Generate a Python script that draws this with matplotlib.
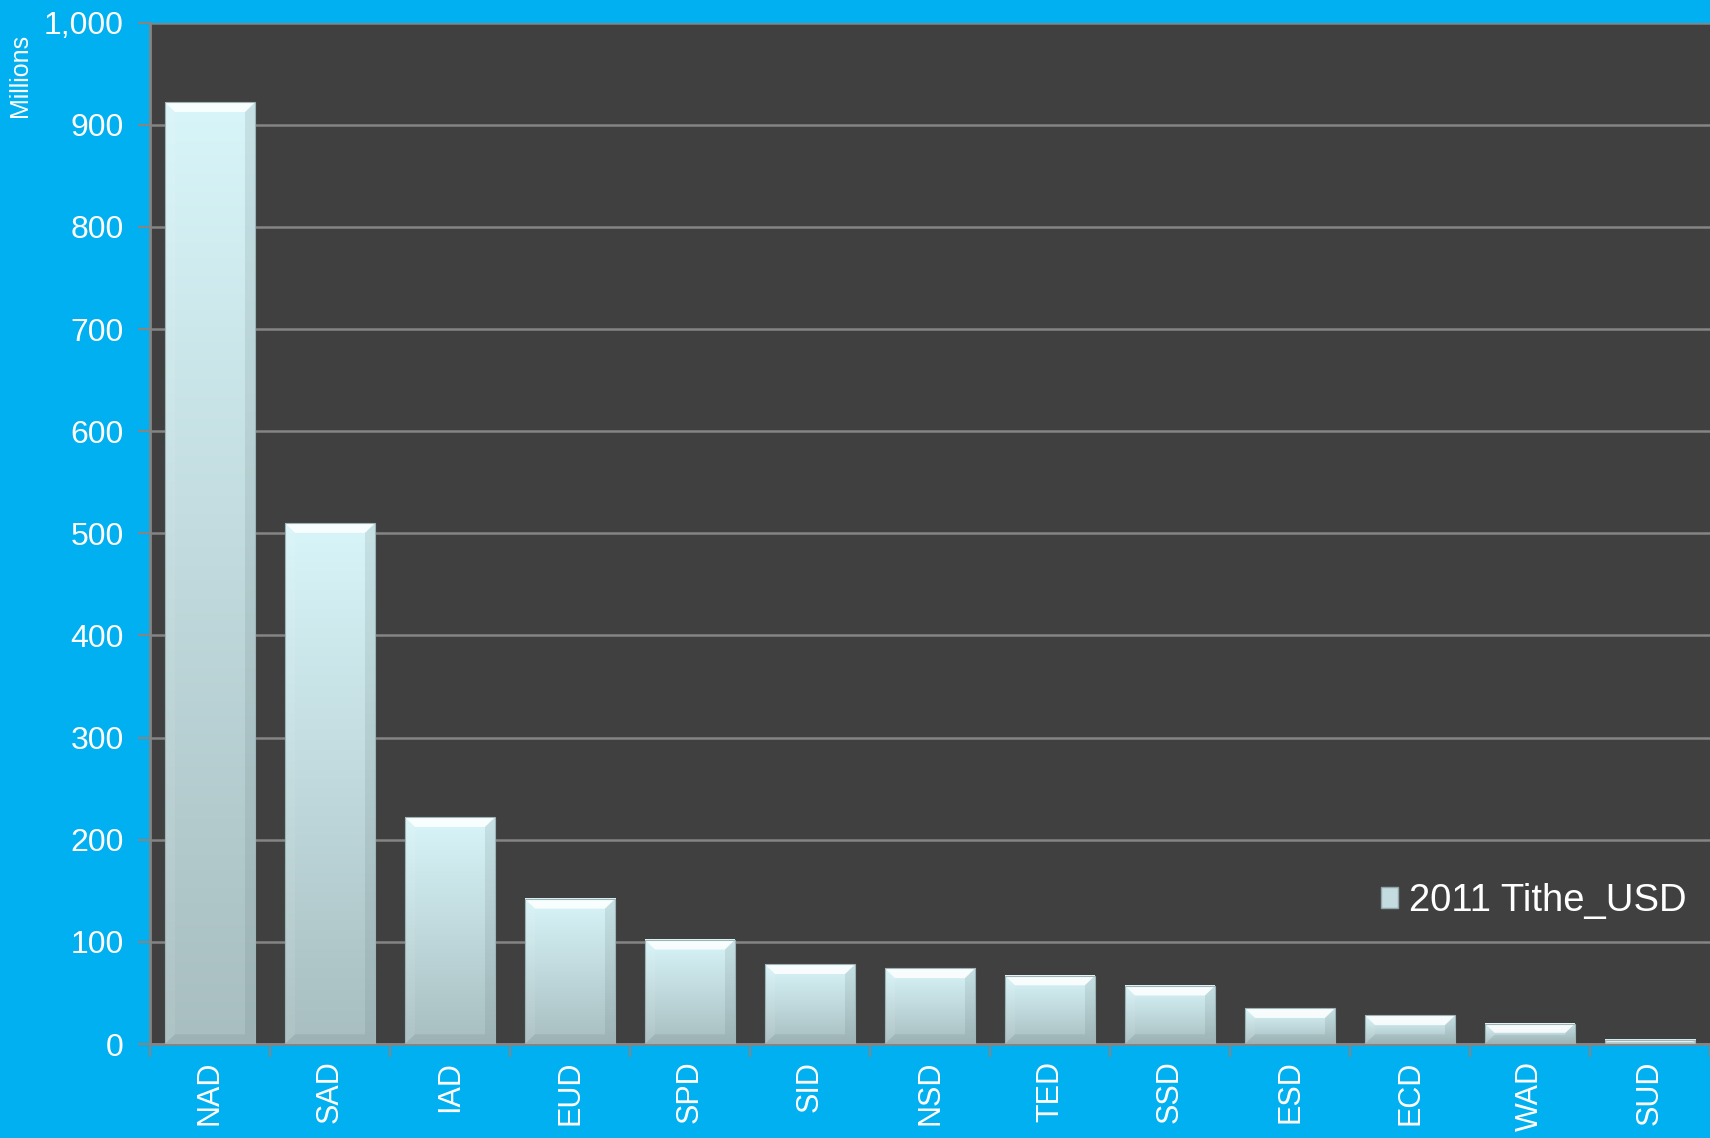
import matplotlib.pyplot as plt
import numpy as np
from matplotlib.colors import LinearSegmentedColormap
from matplotlib.patches import Polygon, Rectangle

# ============================ Data ======================
regions = ["NAD", "SAD", "IAD", "EUD", "SPD", "SID", "NSD",
           "TED", "SSD", "ESD", "ECD", "WAD", "SUD"]
tithe_musd = [922, 510, 222, 142, 102, 78, 74, 67, 57, 35, 28, 20, 4]
y_ticks = [0, 100, 200, 300, 400, 500, 600, 700, 800, 900, 1000]
series_name = "2011 Tithe_USD"

# ============================ Styling ======================
BG = "#00B0F0"
PLOT_BG = "#404040"
GRID = "#858585"
plt.rcParams["font.family"] = ["Liberation Sans", "DejaVu Sans"]

fig = plt.figure(figsize=(17.1, 11.38), dpi=100, facecolor=BG)
ax = fig.add_axes([150 / 1710, 94 / 1138, 1560 / 1710, (1044 - 22.7) / 1138])
ax.set_facecolor(PLOT_BG)

x = np.arange(len(regions))
bar_w = 0.75
bars = ax.bar(x, tithe_musd, width=bar_w, color="none", edgecolor="none", zorder=3)

# gradient fill for each bar (light cyan top, grey-teal bottom)
cmap = LinearSegmentedColormap.from_list("bar", ["#A8BEC0", "#D8F5F9"])
grad = np.linspace(0, 1, 256).reshape(-1, 1)
dx = 10 / 120          # bevel width in category units (~10 px)
dy_full = 9.5          # bevel height in data units (~10 px)
for b in bars:
    x0, w, h = b.get_x(), b.get_width(), b.get_height()
    x1 = x0 + w
    ax.imshow(grad, extent=[x0, x1, 0, h], origin="lower", aspect="auto",
              cmap=cmap, zorder=3, interpolation="bilinear")
    dy = min(dy_full, h * 0.45)
    ddx = dx * dy / dy_full
    # top bevel (bright)
    ax.add_patch(Polygon([(x0, h), (x1, h), (x1 - ddx, h - dy), (x0 + ddx, h - dy)],
                         closed=True, facecolor="white", edgecolor="none",
                         alpha=0.85, zorder=4))
    if h > 2 * dy_full:
        # left bevel (light), right bevel (shade), bottom bevel (shade)
        ax.add_patch(Polygon([(x0, h), (x0 + ddx, h - dy), (x0 + ddx, dy), (x0, 0)],
                             closed=True, facecolor="white", edgecolor="none",
                             alpha=0.08, zorder=4))
        ax.add_patch(Polygon([(x1, h), (x1 - ddx, h - dy), (x1 - ddx, dy), (x1, 0)],
                             closed=True, facecolor="#5E7476", edgecolor="none",
                             alpha=0.15, zorder=4))
        ax.add_patch(Polygon([(x0, 0), (x1, 0), (x1 - ddx, dy), (x0 + ddx, dy)],
                             closed=True, facecolor="#5E7476", edgecolor="none",
                             alpha=0.15, zorder=4))
    ax.add_patch(Rectangle((x0, 0), w, h, facecolor="none",
                           edgecolor="#9DB3B5", linewidth=0.8, zorder=5))

ax.set_xlim(-0.5, len(regions) - 0.5)
ax.set_ylim(0, 1000)

# ============================ Axes ======================
ax.set_yticks(y_ticks)
ax.set_yticklabels([f"{v:,}" for v in y_ticks])
ax.yaxis.grid(True, color=GRID, linewidth=1.8, zorder=1)
ax.set_axisbelow(True)
ax.tick_params(axis="y", colors=GRID, length=9, width=1.5, pad=10,
               labelsize=23, labelcolor="white")

ax.set_xticks(x)
ax.set_xticklabels(regions, rotation=90, va="top", ha="center")
ax.set_xticks(np.arange(len(regions) + 1) - 0.5, minor=True)
ax.tick_params(axis="x", which="major", length=0, pad=12,
               labelsize=22, labelcolor="white")
ax.tick_params(axis="x", which="minor", colors=GRID, length=9, width=1.5)

for side in ["top", "right"]:
    ax.spines[side].set_visible(False)
for side in ["left", "bottom"]:
    ax.spines[side].set_color(GRID)
    ax.spines[side].set_linewidth(2)

fig.text(20 / 1710, 1 - 75 / 1138, "Millions", rotation=90, color="white",
         fontsize=18, ha="center", va="center")

# ============================ Legend ======================
handle = Rectangle((0, 0), 1, 1, facecolor="#C4DCDF", edgecolor="#8FA5A7", linewidth=1)
leg = ax.legend([handle], [series_name], loc="center right",
                bbox_to_anchor=(1.0, 0.14), frameon=False, fontsize=27.5,
                handlelength=0.45, handleheight=0.45, handletextpad=0.3,
                labelcolor="white", borderaxespad=0.2)

fig.savefig("out.png", dpi=100, facecolor=BG)
